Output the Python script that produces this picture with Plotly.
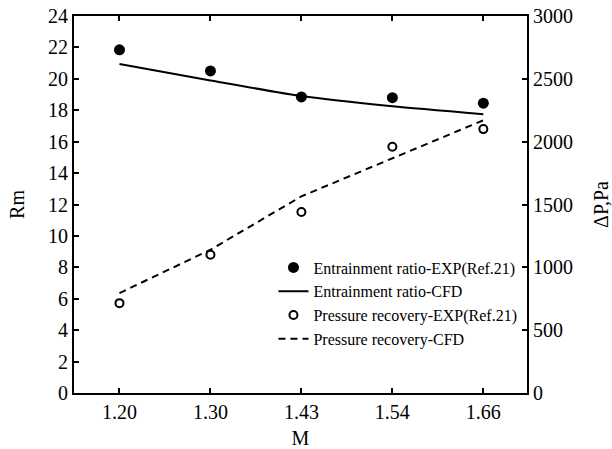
import plotly.graph_objects as go

M_labels = ["1.20", "1.30", "1.43", "1.54", "1.66"]
rm_exp = [21.85, 20.5, 18.85, 18.8, 18.45]
rm_cfd = [20.95, 19.9, 18.9, 18.25, 17.75]
dp_exp = [715, 1100, 1440, 1960, 2100]
dp_cfd = [795, 1140, 1565, 1870, 2170]

FONT = "Liberation Serif, Times New Roman, serif"

fig = go.Figure()
fig.add_trace(go.Scatter(x=M_labels, y=rm_exp, mode="markers", name="Entrainment ratio-EXP(Ref.21)",
                         marker=dict(symbol="circle", size=11, color="black")))
fig.add_trace(go.Scatter(x=M_labels, y=rm_cfd, mode="lines", name="Entrainment ratio-CFD",
                         line=dict(color="black", width=2, shape="spline", smoothing=0.6)))
fig.add_trace(go.Scatter(x=M_labels, y=dp_exp, mode="markers", name="Pressure recovery-EXP(Ref.21)",
                         yaxis="y2",
                         marker=dict(symbol="circle-open", size=8, color="black", line=dict(width=2))))
fig.add_trace(go.Scatter(x=M_labels, y=dp_cfd, mode="lines", name="Pressure recovery-CFD",
                         yaxis="y2",
                         line=dict(color="black", width=2, dash="7px,5px")))

axis_common = dict(showline=True, linecolor="black", linewidth=2, ticks="inside", ticklen=5,
                   tickwidth=1.5, tickcolor="black", showgrid=False, zeroline=False,
                   automargin=False,
                   tickfont=dict(family=FONT, size=20, color="black"))

fig.update_layout(
    width=612, height=449,
    margin=dict(l=74, r=85, t=16, b=56),
    paper_bgcolor="white", plot_bgcolor="white",
    font=dict(family=FONT, color="black"),
    showlegend=True,
    legend=dict(x=0.99, y=0.378, xanchor="right", yanchor="top",
                bgcolor="rgba(0,0,0,0)", font=dict(family=FONT, size=16, color="black"),
                tracegroupgap=0, itemwidth=30),
    xaxis=dict(type="category", range=[-0.5, 4.48], mirror="ticks",
               title=dict(text="M", font=dict(family=FONT, size=20), standoff=12),
               **axis_common),
    yaxis=dict(range=[0, 24], dtick=2,
               title=dict(text="Rm", font=dict(family=FONT, size=20), standoff=18),
               **axis_common),
    yaxis2=dict(range=[0, 3000], dtick=500, overlaying="y", side="right",
                title=dict(text="ΔP,Pa", font=dict(family=FONT, size=20), standoff=24),
                **axis_common),
)

fig.write_html("out.html")
